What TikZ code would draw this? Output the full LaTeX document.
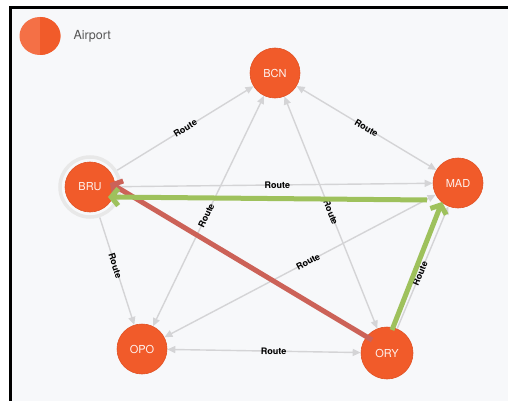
\documentclass[tikz,border=0pt]{standalone}
\usepackage{fontspec}
\setmainfont{TeX Gyre Heros}
\usetikzlibrary{arrows.meta}
\definecolor{airport}{RGB}{241,91,42}
\definecolor{airportlight}{RGB}{244,112,70}
\definecolor{airportline}{RGB}{224,80,34}
\definecolor{routegray}{RGB}{212,212,214}
\definecolor{pathgreen}{RGB}{158,193,92}
\definecolor{pathred}{RGB}{204,98,88}
\definecolor{canvas}{RGB}{247,248,250}
\definecolor{legendtext}{RGB}{85,85,85}

\begin{document}
\begin{tikzpicture}[x=1pt, y=-1pt,
    airportnode/.style={circle, fill=airport, draw=airportline, line width=0.6pt,
      minimum size=50pt, inner sep=0pt, text=white!92!airport,
      font=\fontsize{11}{13}\selectfont},
    route/.style={draw=routegray, line width=1.4pt, -{Triangle[length=8pt,width=7pt]}},
    biroute/.style={route, {Triangle[length=8pt,width=7pt]}-{Triangle[length=8pt,width=7pt]}},
    routelabel/.style={sloped, inner sep=0.5pt, text=black,
      font=\fontsize{9}{10}\selectfont\bfseries},
    hilite/.style={line width=5pt, -{Straight Barb[length=7pt,width=17pt]}}]
  \useasboundingbox (0,0) rectangle (508,401);
  \fill[white] (0,0) rectangle (508,401);
  \fill[canvas] (10,8) rectangle (508,401);
  \draw[black, line width=2.2pt] (10,7.5) -- (508,7.5);
  \draw[black, line width=2.2pt] (10.5,6.5) -- (10.5,401);

  % legend
  \fill[airportlight] (40,36) ellipse (20.5pt and 19pt);
  \begin{scope}
    \clip (40,10) rectangle (70,60);
    \fill[airport] (40,36) ellipse (20.5pt and 19pt);
  \end{scope}
  \node[anchor=west, text=legendtext, font=\fontsize{12.5}{15}\selectfont] (legend) at (70,36) {Airport};

  % airports
  \draw[gray!18, line width=3.5pt] (90,187) circle (30pt);
  \node[airportnode] (BCN) at (275,73) {BCN};
  \node[airportnode, outer sep=7pt] (BRU) at (90,187) {BRU};
  \node[airportnode] (MAD) at (458,183) {MAD};
  \node[airportnode] (OPO) at (142,349) {OPO};
  \node[airportnode, minimum size=52pt] (ORY) at (387,353) {ORY};

  % routes
  \draw[route] (BRU) -- node[routelabel] {Route} (BCN);
  \draw[biroute] (BCN) -- node[routelabel] {Route} (MAD);
  \draw[route] (BRU) -- node[routelabel] {Route} (MAD);
  \draw[route] (BRU) -- node[routelabel, pos=.45] {Route} (OPO);
  \draw[biroute] (OPO) -- node[routelabel, pos=.48] {Route} (BCN);
  \draw[biroute] (ORY) -- node[routelabel, pos=.5] {Route} (BCN);
  \draw[biroute] (MAD) -- node[routelabel, pos=.47] {Route} (OPO);
  \draw[biroute] (OPO) -- node[routelabel, pos=.55] {Route} (ORY);
  \draw[route] (ORY) -- node[routelabel, pos=.45] {Route} (MAD);

  % highlighted path
  \coordinate (redstart) at ([shift={(-15,-13)}]ORY.center);
  \coordinate (redtip) at ([shift={(20,-4)}]BRU.center);
  \coordinate (greenstart) at ([shift={(-31,17)}]MAD.center);
  \coordinate (greentip) at ([shift={(18,10)}]BRU.center);
  \coordinate (orystart) at ([shift={(5,-23)}]ORY.center);
  \coordinate (madtip) at ([shift={(-16,19)}]MAD.center);
  \draw[hilite, pathred] (redstart) -- (redtip);
  \draw[hilite, pathgreen] (greenstart) -- (greentip);
  \draw[hilite, pathgreen] (orystart) -- (madtip);
\end{tikzpicture}
\end{document}
